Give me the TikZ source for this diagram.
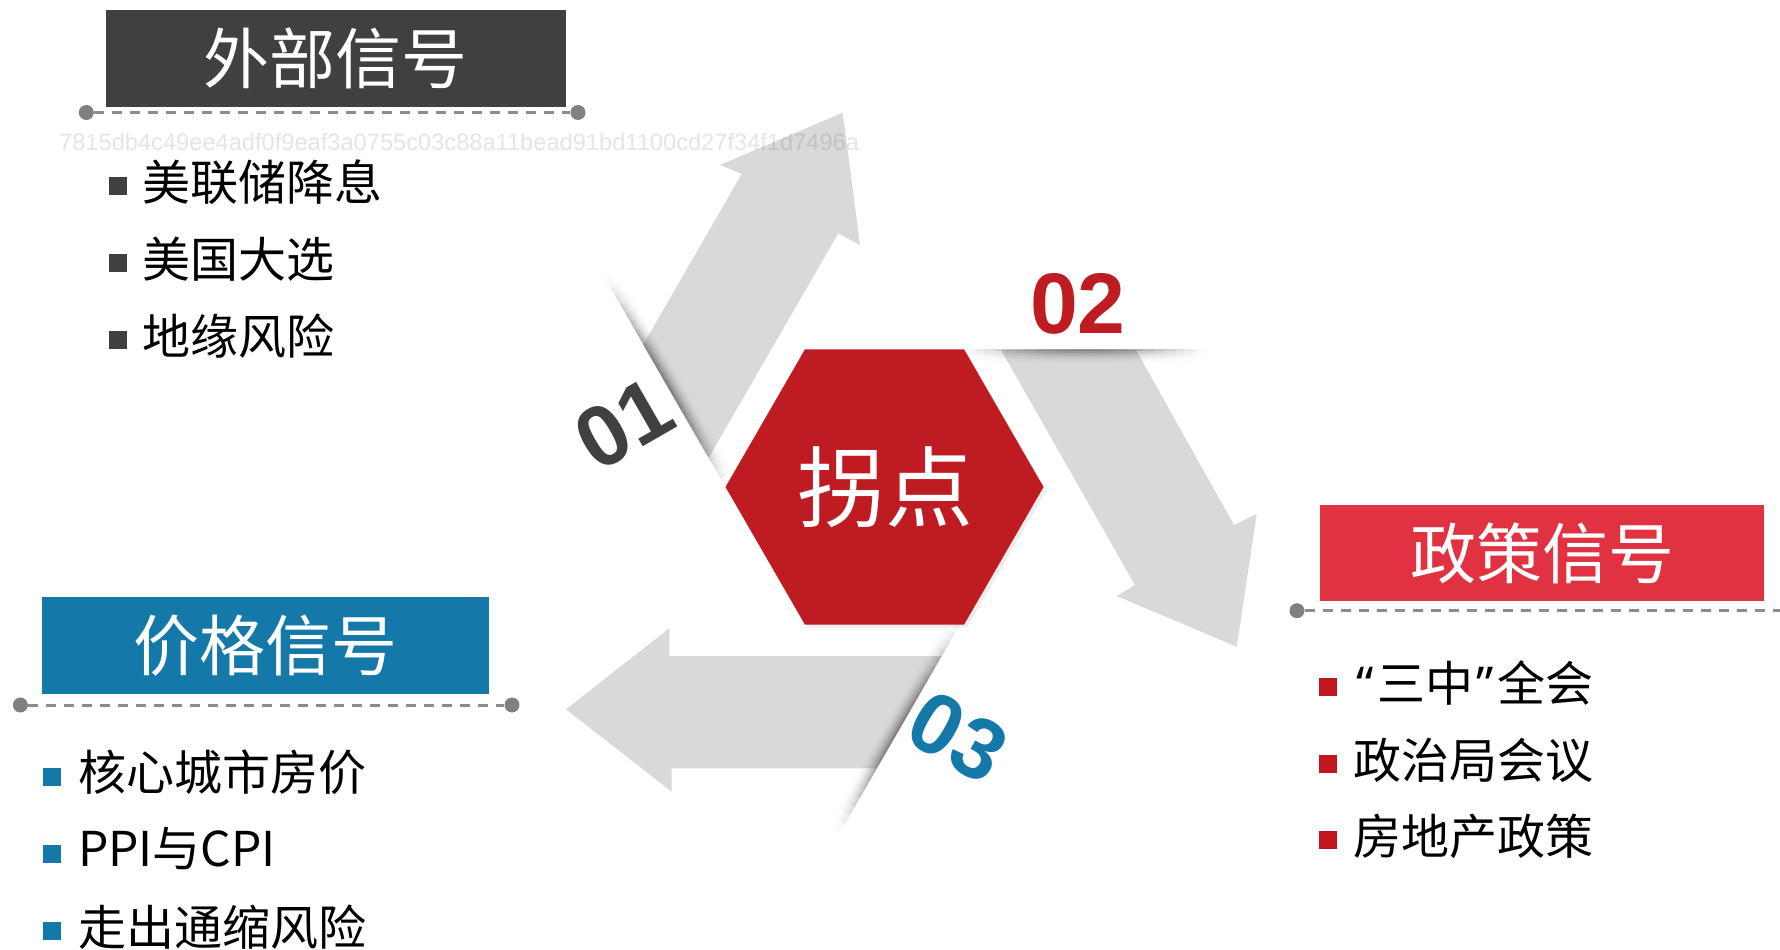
\documentclass[tikz,border=0pt]{standalone}
\usepackage{fontspec}
\setmainfont{Noto Sans CJK SC}
\newfontfamily\numfont{Liberation Sans}
\newfontfamily\wmfont{Liberation Sans}
\newfontfamily\quotefont{Noto Sans}
\usepackage{graphicx}
\definecolor{hdrdark}{HTML}{404040}
\definecolor{hexred}{HTML}{BE1B22}
\definecolor{polred}{HTML}{E03240}
\definecolor{pricebl}{HTML}{1479A8}
\definecolor{bulletred}{HTML}{C0171F}
\definecolor{arrowgray}{HTML}{D9D9D9}
\definecolor{dashgray}{HTML}{8C8C8C}
\definecolor{dotgray}{HTML}{808080}
\newcommand\rayshadow{%
  \foreach \i in {0,...,23}{%
    \foreach \j in {0,...,7}{%
      \pgfmathsetmacro\op{0.45*sin(7.5*(\i+0.5))*(1-(\j+0.5)/8)^2}%
      \fill[black, fill opacity=\op] (\i*10,\j*2) -- ++(10,0) -- ++(0,2) -- ++(-10,0) -- cycle;
    }%
  }%
}
\begin{document}
\begin{tikzpicture}[x=1pt,y=-1pt,
  hdr/.style={inner sep=0, text=white, font=\fontsize{66}{66}\selectfont},
  itemtext/.style={anchor=west, inner sep=0, text=black, font=\fontsize{48}{48}\selectfont},
  bulletsq/.style={minimum size=18pt, inner sep=0},
  dashline/.style={draw=dashgray, line width=3pt, dash pattern=on 10pt off 8pt},
  enddot/.style={circle, fill=dotgray, minimum size=15pt, inner sep=0},
  num/.style={inner sep=0, font=\numfont\bfseries\fontsize{86}{86}\selectfont},
  arrowshape/.style={fill=arrowgray}]
\useasboundingbox (0,0) rectangle (1780,950);
\fill[white] (0,0) rectangle (1780,950);

% arrows
\fill[arrowshape] (643,345) -- (741.7,174) -- (720,165) -- (842.7,112.7) -- (860,245) -- (838.3,233.3) -- (708.4,458.2) -- cycle;
\fill[arrowshape] (1001,350) -- (1135,585) -- (1116.7,596) -- (1236.7,646.7) -- (1256.7,514) -- (1234,525) -- (1136,350) -- cycle;
\fill[arrowshape] (941.5,656) -- (669.3,656) -- (669.3,628.3) -- (566,709.3) -- (671.7,791.7) -- (671.7,768.3) -- (876.7,768.3) -- cycle;

% cut-line shadows
\begin{scope}[shift={(965,349.3)}] \rayshadow \end{scope}
\begin{scope}[shift={(725.5,487)}, rotate=120] \rayshadow \end{scope}
\begin{scope}[shift={(960,624.7)}, rotate=240] \rayshadow \end{scope}

% hexagon
\fill[black, fill opacity=0.07] (1046.5,490) -- (967,352.3) -- (808,352.3) -- (728.5,490) -- (808,627.7) -- (967,627.7) -- cycle;
\fill[hexred] (1043.5,487) -- (964,349.3) -- (805,349.3) -- (725.5,487) -- (805,624.7) -- (964,624.7) -- cycle;
\node[inner sep=0, text=white, font=\fontsize{88}{88}\selectfont] (hexlabel) at (885,487) {拐点};

% numbers
\node[num, text=hdrdark, rotate=30] (n1) at (624,424) {01};
\node[num, text=hexred] (n2) at (1078,304) {02};
\node[num, text=pricebl, rotate=-30] (n3) at (958,737) {03};

% headers
\node[hdr, fill=hdrdark, minimum width=460pt, minimum height=96.5pt] (extbox) at (335.5,58.5) {外部信号};
\node[hdr, fill=pricebl, minimum width=447pt, minimum height=96.5pt] (pricebox) at (265.7,645.4) {价格信号};
\node[hdr, fill=polred, minimum width=444pt, minimum height=96pt] (polbox) at (1542,553) {政策信号};

% dashed rules
\node[enddot] (extL) at (86.3,112.5) {};
\node[enddot] (extR) at (578,112.5) {};
\draw[dashline] (extL) -- (extR);
\node[enddot] (priceL) at (20.4,705) {};
\node[enddot] (priceR) at (512,705) {};
\draw[dashline] (priceL) -- (priceR);
\node[enddot] (polL) at (1297,610.7) {};
\node[enddot] (polR) at (1790,610.7) {};
\draw[dashline] (polL) -- (polR);

% external items
\node[bulletsq, fill=hdrdark] (e1s) at (117.7,186) {};
\node[itemtext] (e1) at (142,182) {美联储降息};
\node[bulletsq, fill=hdrdark] (e2s) at (117.7,263) {};
\node[itemtext] (e2) at (142,259) {美国大选};
\node[bulletsq, fill=hdrdark] (e3s) at (117.7,340) {};
\node[itemtext] (e3) at (142,336) {地缘风险};

% price items
\node[bulletsq, fill=pricebl] (p1s) at (51.6,777) {};
\node[itemtext] (p1) at (77.8,772.5) {核心城市房价};
\node[bulletsq, fill=pricebl] (p2s) at (51.6,853.7) {};
\node[itemtext] (p2) at (77.8,849) {PPI与CPI};
\node[bulletsq, fill=pricebl] (p3s) at (51.6,931.3) {};
\node[itemtext] (p3) at (77.8,927.5) {走出通缩风险};

% policy items
\node[bulletsq, fill=bulletred] (q1s) at (1328.3,686.7) {};
\node[itemtext] (q1) at (1353,683) {\hspace{3pt}{\quotefont\bfseries “}\hspace{4pt}三中\hspace{3pt}{\quotefont\bfseries ”}\hspace{4pt}全会};
\node[bulletsq, fill=bulletred] (q2s) at (1328.3,763.7) {};
\node[itemtext] (q2) at (1353,760.5) {政治局会议};
\node[bulletsq, fill=bulletred] (q3s) at (1328.3,840.3) {};
\node[itemtext] (q3) at (1353,836.5) {房地产政策};

% watermark
\node[inner sep=0, anchor=west, text=black, text opacity=0.1] (wm) at (59,142) {\resizebox{800pt}{!}{\wmfont\fontsize{23}{23}\selectfont 7815db4c49ee4adf0f9eaf3a0755c03c88a11bead91bd1100cd27f34f1d7496a}};
\end{tikzpicture}
\end{document}
